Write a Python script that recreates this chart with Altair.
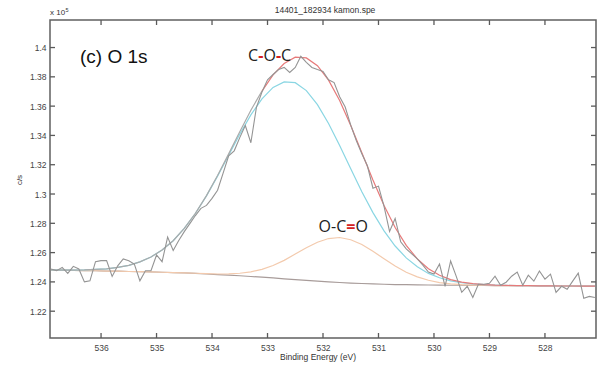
import altair as alt
import pandas as pd

# ---------------- data ----------------
# raw spectrum, binding energy 536.9 -> 527.1 eV, step 0.1 eV (counts x 1e5)
be_raw = [round(536.9 - 0.1 * i, 1) for i in range(99)]
counts_raw = [
    1.2488, 1.2476, 1.2499, 1.2458, 1.2506, 1.2488, 1.2400, 1.2407, 1.2538, 1.2545,
    1.2545, 1.2437, 1.2510, 1.2557, 1.2545, 1.2522, 1.2407, 1.2476, 1.2476, 1.2584,
    1.2538, 1.2706, 1.2614, 1.2683, 1.2743, 1.2798, 1.2853, 1.2902, 1.2922, 1.2970,
    1.3026, 1.3143, 1.3260, 1.3295, 1.3385, 1.3468, 1.3350, 1.3592, 1.3696, 1.3780,
    1.3816, 1.3850, 1.3864, 1.3830, 1.3864, 1.3940, 1.3899, 1.3864, 1.3850, 1.3837,
    1.3780, 1.3761, 1.3664, 1.3594, 1.3470, 1.3365, 1.3275, 1.3193, 1.3040, 1.3054,
    1.2916, 1.2744, 1.2833, 1.2674, 1.2626, 1.2591, 1.2557, 1.2515, 1.2467, 1.2453,
    1.2522, 1.2370, 1.2543, 1.2439, 1.2329, 1.2370, 1.2294, 1.2384, 1.2384, 1.2391,
    1.2439, 1.2377, 1.2398, 1.2439, 1.2467, 1.2377, 1.2446, 1.2405, 1.2474, 1.2419,
    1.2453, 1.2329, 1.2370, 1.2350, 1.2405, 1.2460, 1.2288, 1.2301, 1.2294,
]

# fitted curves, 536.9 -> 527.1 eV, step 0.2 eV
be_fit = [round(536.9 - 0.2 * i, 1) for i in range(50)]
background = [
    1.2481, 1.2480, 1.2478, 1.2477, 1.2476, 1.2474, 1.2473, 1.2471, 1.2470, 1.2468,
    1.2466, 1.2463, 1.2461, 1.2458, 1.2454, 1.2450, 1.2446, 1.2442, 1.2437, 1.2432,
    1.2427, 1.2421, 1.2416, 1.2410, 1.2405, 1.2400, 1.2396, 1.2392, 1.2389, 1.2386,
    1.2384, 1.2382, 1.2381, 1.2380, 1.2379, 1.2378, 1.2377, 1.2377, 1.2376, 1.2376,
    1.2375, 1.2375, 1.2374, 1.2374, 1.2373, 1.2373, 1.2372, 1.2372, 1.2371, 1.2371,
]
coc_peak = [
    1.2482, 1.2481, 1.2481, 1.2482, 1.2485, 1.2489, 1.2499, 1.2513, 1.2537, 1.2570,
    1.2618, 1.2681, 1.2765, 1.2867, 1.2987, 1.3122, 1.3265, 1.3408, 1.3540, 1.3649,
    1.3728, 1.3765, 1.3760, 1.3706, 1.3610, 1.3481, 1.3331, 1.3172, 1.3016, 1.2873,
    1.2748, 1.2645, 1.2564, 1.2503, 1.2458, 1.2428, 1.2407, 1.2394, 1.2386, 1.2381,
    1.2378, 1.2376, 1.2374, 1.2374, 1.2373, 1.2373, 1.2372, 1.2372, 1.2371, 1.2371,
]
oco_peak = [
    1.2481, 1.2480, 1.2478, 1.2477, 1.2476, 1.2474, 1.2473, 1.2471, 1.2470, 1.2468,
    1.2466, 1.2463, 1.2461, 1.2459, 1.2456, 1.2454, 1.2455, 1.2459, 1.2469, 1.2486,
    1.2512, 1.2547, 1.2590, 1.2633, 1.2671, 1.2696, 1.2703, 1.2688, 1.2655, 1.2609,
    1.2558, 1.2508, 1.2466, 1.2434, 1.2411, 1.2395, 1.2386, 1.2381, 1.2378, 1.2377,
    1.2375, 1.2375, 1.2374, 1.2374, 1.2373, 1.2373, 1.2372, 1.2372, 1.2371, 1.2371,
]
envelope = [
    1.2482, 1.2481, 1.2481, 1.2482, 1.2485, 1.2489, 1.2499, 1.2513, 1.2537, 1.2570,
    1.2618, 1.2681, 1.2765, 1.2868, 1.2989, 1.3126, 1.3274, 1.3425, 1.3572, 1.3703,
    1.3813, 1.3891, 1.3934, 1.3929, 1.3876, 1.3777, 1.3638, 1.3468, 1.3282, 1.3096,
    1.2922, 1.2771, 1.2649, 1.2557, 1.2490, 1.2445, 1.2416, 1.2398, 1.2388, 1.2382,
    1.2378, 1.2376, 1.2374, 1.2374, 1.2373, 1.2373, 1.2372, 1.2372, 1.2371, 1.2371,
]
env_split = 19  # envelope drawn grey above 533.1 eV, red below

x_ticks = [528, 529, 530, 531, 532, 533, 534, 535, 536]
y_ticks = [1.22, 1.24, 1.26, 1.28, 1.30, 1.32, 1.34, 1.36, 1.38, 1.40]

# ---------------- chart ----------------
W, H = 546, 318
xscale = alt.Scale(domain=[527.08, 536.92], reverse=True, nice=False, zero=False)
yscale = alt.Scale(domain=[1.2017, 1.4188], nice=False, zero=False)
LF = "Liberation Sans"
xaxis = alt.Axis(values=x_ticks, format="d", title="", labelPadding=5,
                 labelFontSize=8.5, labelFont=LF, labelColor="#444")
yaxis = alt.Axis(values=y_ticks, format="~g", title="", labelPadding=4,
                 labelFontSize=8.5, labelFont=LF, labelColor="#444")
X = alt.X("be:Q", scale=xscale, axis=xaxis)
Y = alt.Y("v:Q", scale=yscale, axis=yaxis)

raw_df = pd.DataFrame({"be": be_raw, "v": counts_raw})
fit = lambda vals: pd.DataFrame({"be": be_fit, "v": vals})
env_df = fit(envelope)

def curve(df, color, width=1.2):
    return alt.Chart(df).mark_line(color=color, strokeWidth=width).encode(x=X, y=Y, order="be:Q")

bg_l = curve(fit(background), "#a89c9a")
oco_l = curve(fit(oco_peak), "#f3caad")
coc_l = curve(fit(coc_peak), "#8ad6e3")
env_g = curve(env_df.iloc[: env_split + 1], "#ababab")
env_r = curve(env_df.iloc[env_split:], "#e77a7a")
raw_l = curve(raw_df, "#949494", 1.1)

TC = "#5a5a5a"
xt = pd.DataFrame({"be": x_ticks})
yt = pd.DataFrame({"v": y_ticks})
tick_b = alt.Chart(xt).mark_rule(color=TC, strokeWidth=1.3).encode(x=X, y=alt.value(H), y2=alt.value(H - 5))
tick_t = alt.Chart(xt).mark_rule(color=TC, strokeWidth=1.3).encode(x=X, y=alt.value(0), y2=alt.value(5))
tick_l = alt.Chart(yt).mark_rule(color=TC, strokeWidth=1.3).encode(y=Y, x=alt.value(0), x2=alt.value(5))
tick_r = alt.Chart(yt).mark_rule(color=TC, strokeWidth=1.3).encode(y=Y, x=alt.value(W), x2=alt.value(W - 5))

one = pd.DataFrame({"a": [0]})
def ptext(s, x, y, size, color="#333", font=LF, align="center", angle=0):
    kw = dict(fontSize=size, color=color, font=font, align=align, baseline="middle")
    if angle:
        kw["angle"] = angle
    return alt.Chart(one).mark_text(**kw).encode(x=alt.value(x), y=alt.value(y), text=alt.value(s))

title_t = ptext("14401_182934 kamon.spe", 275, -10, 8.5)
exp_t = ptext("x 10", 0, -7, 8, align="left")
exp5_t = ptext("5", 15.5, -10.5, 5.5, align="left")
ylab_t = ptext("c/s", -30, 160, 8, angle=270)
xlab_t = ptext("Binding Energy (eV)", 268, 337, 8.5)
panel_t = ptext("(c) O 1s", 30, 37, 19, color="#111", align="left")

# peak labels anchored in data coordinates, multi-coloured pieces
AF = "Open Sans"
def label(be, v, pieces, size=16):
    d = pd.DataFrame({"be": [be], "v": [v]})
    layers = []
    for txt, dx, col, bold in pieces:
        kw = dict(fontSize=size, color=col, font=AF, align="left", baseline="middle", dx=dx)
        if bold:
            kw["fontWeight"] = "bold"
        layers.append(alt.Chart(d).mark_text(**kw).encode(x=X, y=Y, text=alt.value(txt)))
    return layers

RED = "#d42020"
coc_lab = label(533.35, 1.3945, [("C", 0, "#222", False), ("-", 10.1, RED, True),
                                 ("O", 15.3, "#222", False), ("-", 27.8, RED, True),
                                 ("C", 33.0, "#222", False)])
oco_lab = label(532.08, 1.2774, [("O", 0, "#222", False), ("-", 12.5, "#222", False),
                                 ("C", 17.7, "#222", False), ("=", 27.6, RED, True),
                                 ("O", 37.0, "#222", False)])

chart = alt.layer(
    bg_l, oco_l, coc_l, env_g, env_r, raw_l,
    tick_b, tick_t, tick_l, tick_r,
    title_t, exp_t, exp5_t, ylab_t, xlab_t, panel_t,
    *coc_lab, *oco_lab,
).properties(
    width=W, height=H,
    autosize=alt.AutoSizeParams(type="none"),
    padding={"left": 50, "top": 20, "right": 4, "bottom": 33},
    background="white",
).configure_view(
    stroke="#606060", strokeWidth=1.5
).configure_axis(
    grid=False, domain=False, ticks=False
)

chart.save("out.html", embed_options={"renderer": "svg", "actions": False})
